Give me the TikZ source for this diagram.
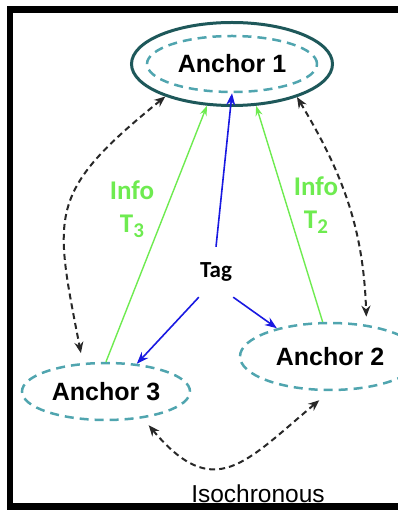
\documentclass[tikz,border=0pt]{standalone}
\usepackage{fontspec}
\setmainfont{Liberation Sans}
\newfontfamily\calibri{Carlito}
\usetikzlibrary{shapes.geometric,arrows.meta}

\definecolor{ringteal}{RGB}{30,88,90}
\definecolor{dashteal}{RGB}{80,165,175}
\definecolor{infogreen}{RGB}{110,235,80}
\definecolor{tagblue}{RGB}{25,25,225}
\definecolor{syncgrey}{RGB}{40,40,40}

\tikzset{
  anchorbox/.style={ellipse, draw=dashteal, line width=2.5pt, dash pattern=on 9pt off 6pt,
    inner sep=0pt, font=\fontsize{25}{30}\selectfont\bfseries},
  outerring/.style={ellipse, draw=ringteal, line width=3pt, inner sep=0pt},
  infotext/.style={text=infogreen, align=center, font=\calibri\bfseries\fontsize{27}{33}\selectfont},
  syncarrow/.style={draw=syncgrey, line width=2pt, dash pattern=on 6pt off 4pt,
    {Stealth[length=11pt,width=9pt]}-{Stealth[length=11pt,width=9pt]}},
  tagarrow/.style={draw=tagblue, line width=1.6pt, -{Stealth[length=12pt,width=9pt]}},
  infoarrow/.style={draw=infogreen, line width=1.4pt, -{Stealth[length=10pt,width=7pt]}},
}

\begin{document}
\begin{tikzpicture}[x=1pt, y=1pt]
    \useasboundingbox (0,0) rectangle (398,511);
    % anchors
    \node[outerring, minimum width=201pt, minimum height=83pt] (a1o) at (232,447) {};
    \node[anchorbox, minimum width=170pt, minimum height=56pt] (a1) at (a1o) {Anchor 1};
    \node[anchorbox, minimum width=180pt, minimum height=67pt] (a2) at (330,154.5) {Anchor 2};
    \node[anchorbox, minimum width=168pt, minimum height=57pt] (a3) at (106,119.5) {Anchor 3};
    \node[font=\calibri\bfseries\fontsize{23}{26}\selectfont, minimum width=34pt, minimum height=50pt,
      inner sep=0pt] (tag) at (216,239) {Tag};
    \node[infotext] (info3) at (132,301.5) {Info\\T\raisebox{-5pt}{\fontsize{21}{21}\selectfont 3}};
    \node[infotext] (info2) at (316,305.5) {Info\\T\raisebox{-5pt}{\fontsize{21}{21}\selectfont 2}};
    \node[font=\fontsize{24.5}{28}\selectfont, anchor=base] (iso) at (258,9) {Isochronous};
    % info to anchor 1
    \draw[infoarrow] (a3.north) -- (a1o.239);
    \draw[infoarrow] (a2.102) -- (a1o.-60);
    % tag
    \draw[tagarrow] (tag.north) -- (a1.south);
    \draw[tagarrow] (tag.south west) -- (a3.42);
    \draw[tagarrow] (tag.south east) -- (a2.152);
    % isochronous links
    \draw[syncarrow, shorten >=10pt] (a1o.206) to[out=219, in=101, looseness=1.4] (a3.129.5);
    \draw[syncarrow, shorten >=8pt] (a1o.-27) to[out=-59, in=92] (a2.41);
    \draw[syncarrow, shorten <=9pt, shorten >=14pt] (a3.-36) to[out=-50, in=-140, looseness=1.5] (a2.south);
    % frame
    \draw[line width=6.5pt, line join=miter] (398,501.5) -- (10,501.5) -- (10,4.5) -- (398,4.5);
\end{tikzpicture}
\end{document}
